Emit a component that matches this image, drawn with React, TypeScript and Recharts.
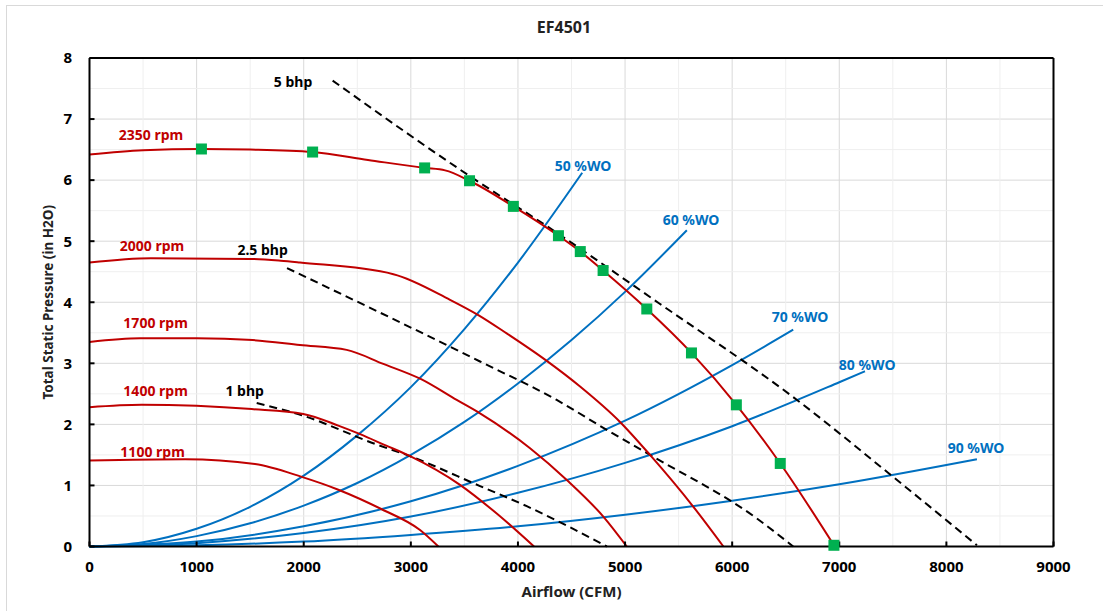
import {
  ComposedChart,
  Line,
  Scatter,
  XAxis,
  YAxis,
  CartesianGrid,
  ReferenceLine,
} from "recharts";

type Pt = [number, number];

// axis ticks
const xTicks = [0, 1000, 2000, 3000, 4000, 5000, 6000, 7000, 8000, 9000];
const yTicks = [0, 1, 2, 3, 4, 5, 6, 7, 8];
const xMinor = [500, 1500, 2500, 3500, 4500, 5500, 6500, 7500, 8500];
const yMinor = [0.5, 1.5, 2.5, 3.5, 4.5, 5.5, 6.5, 7.5];

// fan curves (cfm, in H2O)
const rpm2350: Pt[] = [
  [0, 6.42], [500, 6.49], [1045, 6.51], [1500, 6.5], [2083, 6.46], [2600, 6.33],
  [3129, 6.2], [3320, 6.16], [3548, 5.99], [3957, 5.57], [4378, 5.09], [4582, 4.83],
  [4795, 4.52], [5203, 3.89], [5620, 3.17], [6039, 2.32], [6449, 1.36], [6950, 0.02],
];
const rpm2000: Pt[] = [
  [0, 4.65], [574, 4.72], [1500, 4.71], [1785, 4.68], [1965, 4.65], [2837, 4.46],
  [3366, 4.04], [3630, 3.79], [3895, 3.49], [4269, 3.04], [4580, 2.62], [4953, 2.04],
  [5233, 1.5], [5638, 0.65], [5918, 0],
];
const rpm1700: Pt[] = [
  [0, 3.35], [472, 3.41], [1000, 3.41], [1523, 3.38], [1965, 3.3], [2401, 3.22],
  [2743, 2.99], [3096, 2.74], [3428, 2.4], [3646, 2.18], [4113, 1.61], [4456, 1.09],
  [4797, 0.49], [5016, 0],
];
const rpm1400: Pt[] = [
  [0, 2.28], [487, 2.32], [1514, 2.25], [1996, 2.17], [2323, 1.98], [2526, 1.84],
  [2759, 1.66], [2993, 1.48], [3459, 1.01], [3802, 0.54], [4150, 0],
];
const rpm1100: Pt[] = [
  [0, 1.41], [892, 1.43], [1545, 1.35], [1981, 1.14], [2323, 0.93], [2728, 0.61],
  [3086, 0.27], [3257, 0],
];

// operating points on the 2350 rpm curve
const markers2350: Pt[] = [
  [1045, 6.51], [2083, 6.46], [3129, 6.2], [3548, 5.99], [3957, 5.57], [4378, 5.09],
  [4582, 4.83], [4795, 4.52], [5203, 3.89], [5620, 3.17], [6039, 2.32], [6449, 1.36],
  [6950, 0.02],
];

// brake horsepower lines
const bhp5: Pt[] = [
  [2270, 7.63], [3555, 6.06], [4275, 5.24], [5320, 3.98], [6605, 2.4], [7461, 1.2], [8285, 0.02],
];
const bhp2_5: Pt[] = [
  [1844, 4.56], [3646, 3.03], [4362, 2.4], [4829, 1.91], [5264, 1.47], [6230, 0.46], [6570, 0],
];
const bhp1: Pt[] = [
  [1561, 2.35], [1981, 2.15], [2697, 1.66], [2961, 1.5], [3646, 0.99], [4082, 0.66], [4830, 0],
];

// system curves (% wide open)
const wo50: Pt[] = [
  [0, 0], [500, 0.07], [1000, 0.29], [1500, 0.65], [2000, 1.16], [2500, 1.82],
  [3000, 2.61], [3500, 3.56], [4000, 4.65], [4600, 6.12],
];
const wo60: Pt[] = [
  [0, 0], [500, 0.04], [1000, 0.17], [1500, 0.38], [2000, 0.67], [2500, 1.04],
  [3000, 1.5], [3500, 2.04], [4000, 2.67], [4500, 3.38], [5000, 4.17], [5577, 5.18],
];
const wo70: Pt[] = [
  [0, 0], [1000, 0.08], [2000, 0.33], [3000, 0.74], [4000, 1.32], [5000, 2.06],
  [6000, 2.97], [6570, 3.55],
];
const wo80: Pt[] = [
  [0, 0], [1000, 0.055], [2000, 0.22], [3000, 0.49], [4000, 0.88], [5000, 1.37],
  [6000, 1.97], [7000, 2.69], [7240, 2.87],
];
const wo90: Pt[] = [
  [0, 0], [1000, 0.02], [2000, 0.08], [3000, 0.19], [4000, 0.33], [5000, 0.52],
  [6000, 0.75], [7000, 1.02], [8285, 1.43],
];

const labels = [
  { text: "2350 rpm", cfm: 574, p: 6.74, kind: "rpm" },
  { text: "2000 rpm", cfm: 584, p: 4.93, kind: "rpm" },
  { text: "1700 rpm", cfm: 617, p: 3.66, kind: "rpm" },
  { text: "1400 rpm", cfm: 617, p: 2.55, kind: "rpm" },
  { text: "1100 rpm", cfm: 589, p: 1.55, kind: "rpm" },
  { text: "5 bhp", cfm: 1900, p: 7.61, kind: "bhp" },
  { text: "2.5 bhp", cfm: 1616, p: 4.86, kind: "bhp" },
  { text: "1 bhp", cfm: 1449, p: 2.55, kind: "bhp" },
  { text: "50 %WO", cfm: 4608, p: 6.24, kind: "wo" },
  { text: "60 %WO", cfm: 5616, p: 5.34, kind: "wo" },
  { text: "70 %WO", cfm: 6634, p: 3.76, kind: "wo" },
  { text: "80 %WO", cfm: 7260, p: 2.98, kind: "wo" },
  { text: "90 %WO", cfm: 8277, p: 1.62, kind: "wo" },
];

const RED = "#C00000";
const BLUE = "#0070C0";
const GREEN = "#00B050";
const FONT = "'Noto Sans', sans-serif";
const labelColor: Record<string, string> = { rpm: RED, bhp: "#000000", wo: BLUE };

const toRows = (pts: Pt[]) => pts.map(([cfm, p]) => ({ cfm, p }));

const fanCurves = [rpm2350, rpm2000, rpm1700, rpm1400, rpm1100];
const bhpLines = [bhp5, bhp2_5, bhp1];
const systemCurves = [wo50, wo60, wo70, wo80, wo90];

const MarkerShape = (props: any) => {
  const { cx, cy } = props;
  return <rect x={cx - 5.5} y={cy - 5.5} width={11} height={11} fill={GREEN} />;
};

const LabelShape = (props: any) => {
  const { cx, cy, payload } = props;
  return (
    <text
      x={cx}
      y={cy}
      dy="0.36em"
      textAnchor="middle"
      fontFamily={FONT}
      fontWeight={700}
      fontSize={14}
      fill={labelColor[payload.kind]}
    >
      {payload.text}
    </text>
  );
};

const tickStyle = { fontFamily: FONT, fontWeight: 700, fontSize: 15, fill: "#000" };

export default function App() {
  return (
    <div
      style={{
        position: "absolute",
        left: 0,
        top: 0,
        width: 1103,
        height: 611,
        overflow: "hidden",
        background: "#fff",
      }}
    >
      <div
        style={{
          position: "absolute",
          left: 6,
          top: 5,
          width: 1200,
          height: 700,
          border: "1px solid #d9d9d9",
        }}
      />
      <div
        style={{
          position: "absolute",
          left: 0,
          top: 16,
          width: 1128,
          textAlign: "center",
          fontFamily: FONT,
          fontWeight: 700,
          fontSize: 16,
          color: "#222",
        }}
      >
        EF4501
      </div>
      <div style={{ position: "absolute", left: 0, top: 0 }}>
        <ComposedChart
          width={1103}
          height={611}
          margin={{ top: 58, right: 49.5, left: 6, bottom: 14.5 }}
        >
          {xMinor.map((v) => (
            <ReferenceLine key={"mx" + v} x={v} stroke="#efefef" strokeWidth={1} />
          ))}
          {yMinor.map((v) => (
            <ReferenceLine key={"my" + v} y={v} stroke="#efefef" strokeWidth={1} />
          ))}
          <CartesianGrid stroke="#d9d9d9" strokeWidth={1} />
          <XAxis
            dataKey="cfm"
            type="number"
            domain={[0, 9000]}
            ticks={xTicks}
            allowDuplicatedCategory={false}
            height={50}
            tickSize={-5}
            tickMargin={20}
            axisLine={{ stroke: "#000", strokeWidth: 2 }}
            tickLine={{ stroke: "#000", strokeWidth: 2 }}
            tick={tickStyle}
            label={{
              value: "Airflow (CFM)",
              position: "insideBottom",
              offset: 0,
              style: { fontFamily: FONT, fontWeight: 700, fontSize: 15, fill: "#222" },
            }}
          />
          <YAxis
            dataKey="p"
            type="number"
            domain={[0, 8]}
            ticks={yTicks}
            width={83.5}
            tickSize={-5}
            tickMargin={22.5}
            axisLine={{ stroke: "#000", strokeWidth: 2 }}
            tickLine={{ stroke: "#000", strokeWidth: 2 }}
            tick={tickStyle}
            label={{
              value: "Total Static Pressure (in H2O)",
              angle: -90,
              position: "center",
              style: { fontFamily: FONT, fontWeight: 700, fontSize: 13.5, fill: "#222" },
            }}
          />
          <ReferenceLine y={8} stroke="#000" strokeWidth={2} />
          <ReferenceLine x={9000} stroke="#000" strokeWidth={2} />

          {systemCurves.map((pts, i) => (
            <Line
              key={"wo" + i}
              data={toRows(pts)}
              dataKey="p"
              type="monotone"
              stroke={BLUE}
              strokeWidth={2}
              dot={false}
              activeDot={false}
              isAnimationActive={false}
            />
          ))}
          {bhpLines.map((pts, i) => (
            <Line
              key={"bhp" + i}
              data={toRows(pts)}
              dataKey="p"
              type="monotone"
              stroke="#000"
              strokeWidth={2}
              strokeDasharray="8 5"
              dot={false}
              activeDot={false}
              isAnimationActive={false}
            />
          ))}
          {fanCurves.map((pts, i) => (
            <Line
              key={"rpm" + i}
              data={toRows(pts)}
              dataKey="p"
              type="monotone"
              stroke={RED}
              strokeWidth={2}
              dot={false}
              activeDot={false}
              isAnimationActive={false}
            />
          ))}
          <Scatter
            data={toRows(markers2350)}
            dataKey="p"
            shape={MarkerShape}
            isAnimationActive={false}
          />
          <Scatter data={labels} dataKey="p" shape={LabelShape} isAnimationActive={false} />
        </ComposedChart>
      </div>
    </div>
  );
}
